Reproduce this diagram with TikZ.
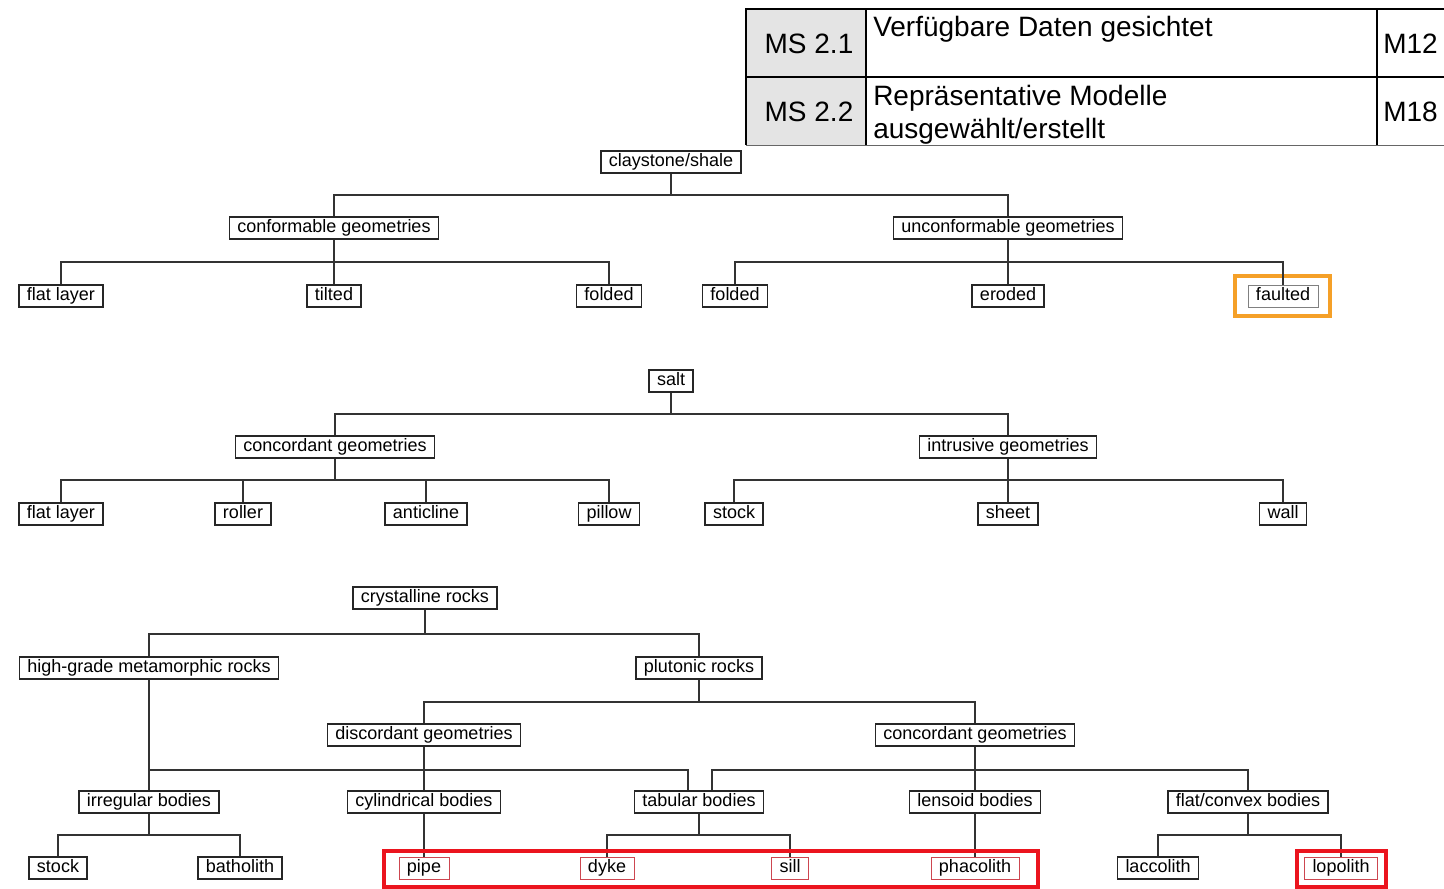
\documentclass[tikz,border=0pt]{standalone}
\usepackage{fontspec}
\setmainfont{Liberation Sans}
\usetikzlibrary{calc}
\definecolor{hlred}{RGB}{205,70,80}
\definecolor{boxred}{RGB}{235,20,30}
\definecolor{boxorange}{RGB}{245,160,40}
\definecolor{tabgray}{RGB}{228,228,228}
\begin{document}
\begin{tikzpicture}[x=0.75pt,y=-0.75pt,
  nd/.style={draw=black!85,line width=0.9pt,inner xsep=6pt,inner ysep=2.25pt,text height=9.5pt,text depth=2.5pt,
    font=\fontsize{13.5}{15}\selectfont},
  hl/.style={nd,draw=hlred,line width=0.6pt},
  hlg/.style={nd,draw=black!50,line width=0.6pt},
  conn/.style={draw=black!80,line width=0.9pt},
  mark box/.style={line width=2.4pt},
  tabtxt/.style={inner sep=0pt,font=\fontsize{21}{24}\selectfont}]
\path[use as bounding box] (0,0) rectangle (1444,888);

% ---------- table ----------
\fill[tabgray] (746,9) rectangle (866,145);
\draw[line width=1.6pt] (746,145) -- (746,9) -- (1444,9);
\draw[line width=1.6pt] (746,77) -- (1444,77);
\draw[line width=1.2pt] (866,9) -- (866,145);
\draw[line width=1.2pt] (1377,9) -- (1377,145);
\draw[line width=0.6pt,black!60] (746,145) -- (1444,145);
\node[tabtxt,anchor=base] (ms1) at (809,54) {MS 2.1};
\node[tabtxt,anchor=base] (ms2) at (809,122) {MS 2.2};
\node[tabtxt,anchor=base west] (t1) at (873,37) {Verfügbare Daten gesichtet};
\node[tabtxt,anchor=base west] (t2a) at (873,106) {Repräsentative Modelle};
\node[tabtxt,anchor=base west] (t2b) at (873,138) {ausgewählt/erstellt};
\node[tabtxt,anchor=base west] (m1) at (1383,54) {M12};
\node[tabtxt,anchor=base west] (m2) at (1383,122) {M18};

% ---------- bus levels ----------
\coordinate (a1) at (0,195);
\coordinate (a2) at (0,262);
\coordinate (s1) at (0,414);
\coordinate (s2) at (0,480);
\coordinate (c1) at (0,634);
\coordinate (c2) at (0,702);
\coordinate (c3) at (0,770);
\coordinate (c4) at (0,835);

% ---------- claystone tree ----------
\node[nd] (cs) at (671,162) {claystone/shale};
\node[nd] (conf) at (334,228) {conformable geometries};
\node[nd] (unconf) at (1008,228) {unconformable geometries};
\node[nd] (fl1) at (61,296) {flat layer};
\node[nd] (tilt) at (334,296) {tilted};
\node[nd] (fold1) at (609,296) {folded};
\node[nd] (fold2) at (735,296) {folded};
\node[nd] (erod) at (1008,296) {eroded};
\node[hlg] (faul) at (1283,296) {faulted};
\draw[boxorange,mark box] (1235,276) rectangle (1330,316);

\draw[conn] (cs.south) -- (cs.south |- a1);
\draw[conn] (conf.north) |- (cs.south |- a1) -| (unconf.north);
\draw[conn] (fl1.north) |- (conf.south |- a2) -| (fold1.north);
\draw[conn] (conf.south) -- (tilt.north);
\draw[conn] (fold2.north) |- (unconf.south |- a2) -| (faul.north);
\draw[conn] (unconf.south) -- (erod.north);

% ---------- salt tree ----------
\node[nd] (salt) at (671,381) {salt};
\node[nd] (scon) at (335,447) {concordant geometries};
\node[nd] (sint) at (1008,447) {intrusive geometries};
\node[nd] (fl2) at (61,514) {flat layer};
\node[nd] (roll) at (243,514) {roller};
\node[nd] (anti) at (426,514) {anticline};
\node[nd] (pill) at (609,514) {pillow};
\node[nd] (stk1) at (734,514) {stock};
\node[nd] (shee) at (1008,514) {sheet};
\node[nd] (wall) at (1283,514) {wall};

\draw[conn] (salt.south) -- (salt.south |- s1);
\draw[conn] (scon.north) |- (salt.south |- s1) -| (sint.north);
\draw[conn] (fl2.north) |- (scon.south |- s2) -| (pill.north);
\draw[conn] (scon.south) -- (scon.south |- s2);
\draw[conn] (roll.north) -- (roll.north |- s2);
\draw[conn] (anti.north) -- (anti.north |- s2);
\draw[conn] (stk1.north) |- (sint.south |- s2) -| (wall.north);
\draw[conn] (sint.south) -- (shee.north);

% ---------- crystalline tree ----------
\node[nd] (cr) at (425,598) {crystalline rocks};
\node[nd] (hg) at (149,668) {high-grade metamorphic rocks};
\node[nd] (plu) at (699,668) {plutonic rocks};
\node[nd] (disc) at (424,735) {discordant geometries};
\node[nd] (conc) at (975,735) {concordant geometries};
\node[nd] (irr) at (149,802) {irregular bodies};
\node[nd] (cyl) at (424,802) {cylindrical bodies};
\node[nd] (tab) at (699,802) {tabular bodies};
\node[nd] (lens) at (975,802) {lensoid bodies};
\node[nd] (fc) at (1248,802) {flat/convex bodies};
\node[nd] (stk2) at (58,868) {stock};
\node[nd] (bath) at (240,868) {batholith};
\node[hl] (pipe) at (424,868) {pipe};
\node[hl] (dyke) at (607,868) {dyke};
\node[hl] (sill) at (790,868) {sill};
\node[hl] (phac) at (975,868) {phacolith};
\node[nd] (lacc) at (1158,868) {laccolith};
\node[hl] (lopo) at (1341,868) {lopolith};

\draw[conn] (cr.south) -- (cr.south |- c1);
\draw[conn] (hg.north) |- (cr.south |- c1) -| (plu.north);
\draw[conn] (plu.south) -- (plu.south |- c2);
\draw[conn] (disc.north) |- (plu.south |- c2) -| (conc.north);
\draw[conn] (hg.south) -- (irr.north);
\draw[conn] (hg.south |- c3) -| ($(tab.north)+(-11,0)$);
\draw[conn] (disc.south) -- (cyl.north);
\draw[conn] ($(tab.north)+(13,0)$) |- (conc.south |- c3) -| (fc.north);
\draw[conn] (conc.south) -- (lens.north);
\draw[conn] (irr.south) -- (irr.south |- c4);
\draw[conn] (stk2.north) |- (irr.south |- c4) -| (bath.north);
\draw[conn] (cyl.south) -- (pipe.north);
\draw[conn] (tab.south) -- (tab.south |- c4);
\draw[conn] (dyke.north) |- (tab.south |- c4) -| (sill.north);
\draw[conn] (lens.south) -- (phac.north);
\draw[conn] (fc.south) -- (fc.south |- c4);
\draw[conn] (lacc.north) |- (fc.south |- c4) -| (lopo.north);

\draw[boxred,mark box] (384,851) rectangle (1038,887);
\draw[boxred,mark box] (1297,851) rectangle (1386,887);
\end{tikzpicture}
\end{document}
